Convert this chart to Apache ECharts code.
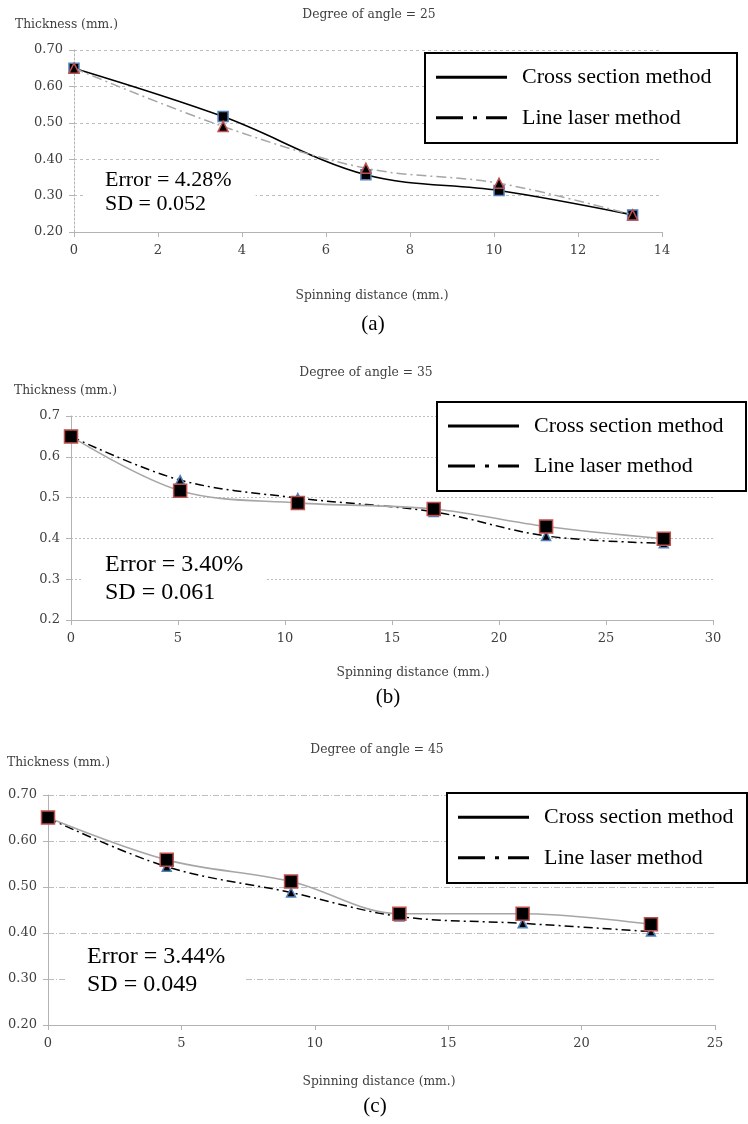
<!DOCTYPE html>
<html><head><meta charset="utf-8">
<script src="https://cdn.jsdelivr.net/npm/echarts@6/dist/echarts.min.js"></script>
<style>html,body{margin:0;padding:0;background:#fff}#c{width:748px;height:1124px}</style>
</head><body><div id="c"></div>
<script>
// ---- data ----
const seriesNames = ['Cross section method', 'Line laser method'];
// (a) angle 25
const xA = [0, 3.55, 6.95, 10.12, 13.3];
const crossA = [0.650, 0.517, 0.357, 0.314, 0.247];
const laserA = [0.650, 0.490, 0.375, 0.334, 0.247];
// (b) angle 35
const xB = [0, 5.1, 10.6, 16.95, 22.2, 27.7];
const crossB = [0.650, 0.517, 0.487, 0.472, 0.429, 0.399];
const laserB = [0.650, 0.543, 0.499, 0.465, 0.406, 0.388];
// (c) angle 45
const xC = [0, 4.45, 9.11, 13.17, 17.79, 22.6];
const crossC = [0.651, 0.559, 0.512, 0.442, 0.442, 0.419];
const laserC = [0.650, 0.544, 0.488, 0.436, 0.421, 0.403];
const titles = ['Degree of angle = 25', 'Degree of angle = 35', 'Degree of angle = 45'];
const captions = ['(a)', '(b)', '(c)'];
const notes = [['Error = 4.28%', 'SD = 0.052'], ['Error = 3.40%', 'SD = 0.061'], ['Error = 3.44%', 'SD = 0.049']];
const yName = 'Thickness (mm.)';
const xName = 'Spinning distance (mm.)';

const pair = (xs, ys) => xs.map((x, i) => [x, ys[i]]);
const SERIF = '"DejaVu Serif", serif';
const TSERIF = '"Liberation Serif", serif';
const BLUE = '#4F81BD', RED = '#C0504D';

const grids = [
  {left: 74, top: 50, width: 588, height: 182},
  {left: 71, top: 416, width: 642, height: 204},
  {left: 48, top: 795, width: 667, height: 230}
];
const xMax = [14, 30, 25], xInt = [2, 5, 5];
const yDec = [2, 1, 2];
const gridDash = [[3, 3], [2, 2], [6, 2, 1, 2]];

const xAxes = grids.map((g, i) => ({
  type: 'value', gridIndex: i, min: 0, max: xMax[i], interval: xInt[i],
  axisLine: {show: true, lineStyle: {color: '#b3b3b3', width: 1}},
  axisTick: {show: true, length: 5, lineStyle: {color: '#b3b3b3'}},
  axisLabel: {fontFamily: SERIF, fontSize: 13, color: '#404040', margin: 12},
  splitLine: {show: false}
}));
const yAxes = grids.map((g, i) => ({
  type: 'value', gridIndex: i, min: 0.2, max: 0.7, interval: 0.1,
  axisLine: {show: true, lineStyle: {color: '#b3b3b3', width: 1, type: i === 0 ? [2, 2] : 'solid'}},
  axisTick: {show: true, length: 5, lineStyle: {color: '#b3b3b3'}},
  axisLabel: {fontFamily: SERIF, fontSize: 13, color: '#404040', margin: 11,
    formatter: v => v.toFixed(yDec[i])},
  splitLine: {show: true, lineStyle: {color: '#bdbdbd', width: 1, type: gridDash[i]}}
}));

const dashDot = [9, 4, 2, 4];
const series = [
  // (a): laser drawn on top
  {name: seriesNames[0], type: 'line', xAxisIndex: 0, yAxisIndex: 0, data: pair(xA, crossA), smooth: 0.35,
   lineStyle: {color: '#000', width: 1.6}, symbol: 'rect', symbolSize: 10,
   itemStyle: {color: '#000', borderColor: BLUE, borderWidth: 1.5}, z: 3},
  {name: seriesNames[1], type: 'line', xAxisIndex: 0, yAxisIndex: 0, data: pair(xA, laserA), smooth: 0.35,
   lineStyle: {color: '#a6a6a6', width: 1.5, type: [10, 4, 2, 4]}, symbol: 'triangle', symbolSize: 10,
   itemStyle: {color: '#000', borderColor: RED, borderWidth: 1.5}, z: 4},
  // (b)
  {name: seriesNames[1], type: 'line', xAxisIndex: 1, yAxisIndex: 1, data: pair(xB, laserB), smooth: 0.35,
   lineStyle: {color: '#000', width: 1.5, type: dashDot}, symbol: 'triangle', symbolSize: 9,
   itemStyle: {color: '#000', borderColor: BLUE, borderWidth: 1.5}, z: 3},
  {name: seriesNames[0], type: 'line', xAxisIndex: 1, yAxisIndex: 1, data: pair(xB, crossB), smooth: 0.35,
   lineStyle: {color: '#a6a6a6', width: 1.6}, symbol: 'rect', symbolSize: 13,
   itemStyle: {color: '#000', borderColor: RED, borderWidth: 1.5}, z: 4},
  // (c)
  {name: seriesNames[1], type: 'line', xAxisIndex: 2, yAxisIndex: 2, data: pair(xC, laserC), smooth: 0.35,
   lineStyle: {color: '#000', width: 1.5, type: dashDot}, symbol: 'triangle', symbolSize: 9,
   itemStyle: {color: '#000', borderColor: BLUE, borderWidth: 1.5}, z: 3},
  {name: seriesNames[0], type: 'line', xAxisIndex: 2, yAxisIndex: 2, data: pair(xC, crossC), smooth: 0.35,
   lineStyle: {color: '#a6a6a6', width: 1.6}, symbol: 'rect', symbolSize: 13,
   itemStyle: {color: '#000', borderColor: RED, borderWidth: 1.5}, z: 4}
];
series.forEach(s => { s.animation = false; s.emphasis = {disabled: true}; });

// ---- text & legend graphics ----
const layout = [
  {title: [369, 15], yname: [15, 25], xname: [372, 296], cap: [373, 324],
   note: [83, 192], noteFont: 22, noteLH: 24, notePad: [2, 24, 2, 22], leg: [425, 53, 312, 90]},
  {title: [366, 373], yname: [14, 391], xname: [413, 673], cap: [388, 697],
   note: [83, 579], noteFont: 24, noteLH: 28, notePad: [2, 22, 2, 22], leg: [437, 402, 309, 89]},
  {title: [377, 750], yname: [7, 763], xname: [379, 1082], cap: [375, 1106],
   note: [67, 971], noteFont: 24, noteLH: 28, notePad: [2, 20, 2, 20], leg: [447, 793, 300, 90]}
];
const graphic = [];
const smallText = {fontFamily: SERIF, fontSize: 12.3, fill: '#404040'};
layout.forEach((L, i) => {
  graphic.push({type: 'text', x: L.title[0], y: L.title[1], style: Object.assign({text: titles[i], textAlign: 'center', textVerticalAlign: 'middle'}, smallText)});
  graphic.push({type: 'text', x: L.yname[0], y: L.yname[1], style: Object.assign({text: yName, textAlign: 'left', textVerticalAlign: 'middle'}, smallText)});
  graphic.push({type: 'text', x: L.xname[0], y: L.xname[1], style: Object.assign({text: xName, textAlign: 'center', textVerticalAlign: 'middle'}, smallText)});
  graphic.push({type: 'text', x: L.cap[0], y: L.cap[1], style: {text: captions[i], fontFamily: TSERIF, fontSize: 21, fill: '#000', textAlign: 'center', textVerticalAlign: 'middle'}});
  graphic.push({type: 'text', x: L.note[0], y: L.note[1], z: 1,
    style: {text: notes[i][0] + '\n' + notes[i][1], fontFamily: TSERIF, fontSize: L.noteFont, lineHeight: L.noteLH, fill: '#000',
      textAlign: 'left', textVerticalAlign: 'middle', backgroundColor: '#fff', padding: L.notePad}});
  const [lx, ly, lw, lh] = L.leg;
  graphic.push({type: 'rect', z: 10, shape: {x: lx, y: ly, width: lw, height: lh}, style: {fill: '#fff', stroke: '#000', lineWidth: 2}});
  const y1 = ly + lh * 0.27, y2 = ly + lh * 0.72;
  graphic.push({type: 'line', z: 11, shape: {x1: lx + 11, y1: y1, x2: lx + 82, y2: y1}, style: {stroke: '#000', lineWidth: 3}});
  graphic.push({type: 'line', z: 11, shape: {x1: lx + 11, y1: y2, x2: lx + 82, y2: y2}, style: {stroke: '#000', lineWidth: 3, lineDash: [27, 10, 4, 9]}});
  graphic.push({type: 'text', z: 11, x: lx + 97, y: y1, style: {text: seriesNames[0], fontFamily: TSERIF, fontSize: 22, fill: '#000', textVerticalAlign: 'middle'}});
  graphic.push({type: 'text', z: 11, x: lx + 97, y: y2, style: {text: seriesNames[1], fontFamily: TSERIF, fontSize: 22, fill: '#000', textVerticalAlign: 'middle'}});
});

const chart = echarts.init(document.getElementById('c'), null, {renderer: 'canvas'});
chart.setOption({
  animation: false,
  backgroundColor: '#fff',
  grid: grids,
  xAxis: xAxes,
  yAxis: yAxes,
  series: series,
  graphic: graphic
});
</script>
</body></html>
